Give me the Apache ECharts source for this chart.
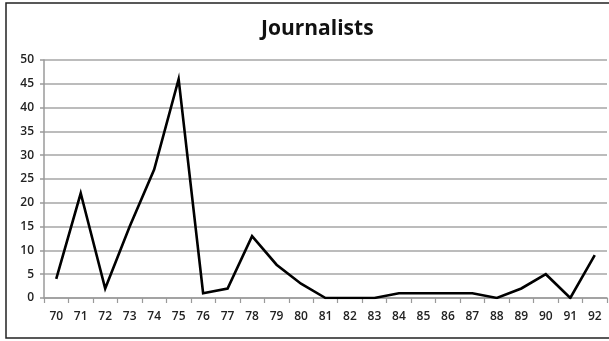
<!DOCTYPE html>
<html>
<head>
<meta charset="utf-8">
<script src="https://cdn.jsdelivr.net/npm/echarts@6/dist/echarts.min.js"></script>
<style>
  html, body { margin: 0; padding: 0; background: #fff; }
  #chart { width: 609px; height: 341px; }
</style>
</head>
<body>
<div id="chart"></div>
<script>
// Years (two-digit) along the x axis
const years = ['70','71','72','73','74','75','76','77','78','79','80','81',
               '82','83','84','85','86','87','88','89','90','91','92'];
// Number of journalists per year
const journalists = [4, 22, 2, 15, 27, 46, 1, 2, 13, 7, 3, 0,
                     0, 0, 1, 1, 1, 1, 0, 2, 5, 0, 9];
// Value axis range
const yMin = 0, yMax = 50, yStep = 5;

const labelFont = 'Open Sans, sans-serif';
const chart = echarts.init(document.getElementById('chart'), null, { renderer: 'canvas' });

chart.setOption({
  animation: false,
  backgroundColor: '#ffffff',
  title: {
    text: 'Journalists',
    left: 256,
    top: 14,
    textStyle: { fontFamily: labelFont, fontWeight: 'bold', fontSize: 21, color: '#111' }
  },
  graphic: [{
    type: 'rect',
    shape: { x: 6, y: 3, width: 620, height: 335 },
    style: { fill: 'none', stroke: '#222', lineWidth: 1.5 },
    silent: true,
    z: 100
  }],
  grid: { left: 44, right: 2, top: 60, bottom: 43, containLabel: false },
  xAxis: {
    type: 'category',
    data: years,
    boundaryGap: true,
    axisLine: { lineStyle: { color: '#9a9a9a', width: 1.5 } },
    axisTick: { show: true, length: 5, alignWithLabel: false, lineStyle: { color: '#9a9a9a', width: 1.2 } },
    axisLabel: { fontFamily: labelFont, fontSize: 12, fontWeight: 600, color: '#222', margin: 13, interval: 0 },
    splitLine: { show: false }
  },
  yAxis: {
    type: 'value',
    min: yMin,
    max: yMax,
    interval: yStep,
    axisLine: { show: true, lineStyle: { color: '#9a9a9a', width: 1.5 } },
    axisTick: { show: true, length: 4, lineStyle: { color: '#9a9a9a', width: 1.5 } },
    axisLabel: { fontFamily: labelFont, fontSize: 12, fontWeight: 600, color: '#222', margin: 10 },
    splitLine: { show: true, lineStyle: { color: '#a6a6a6', width: 1.5 } }
  },
  series: [{
    type: 'line',
    data: journalists,
    symbol: 'none',
    lineStyle: { color: '#000', width: 2.6, join: 'miter' },
    z: 10
  }]
});
</script>
</body>
</html>
